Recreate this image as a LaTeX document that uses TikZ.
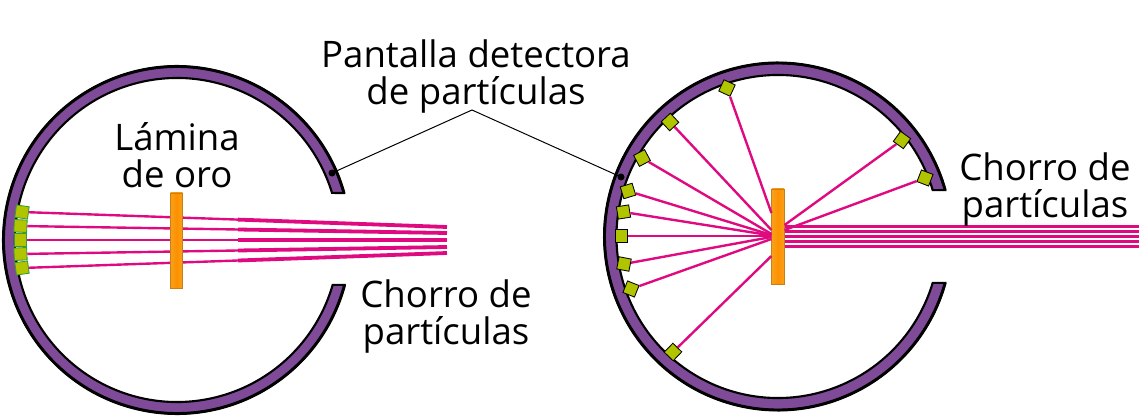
\documentclass[tikz,border=0pt]{standalone}
\usepackage{fontspec}
\setmainfont{Open Sans}
\usetikzlibrary{positioning, calc}
\definecolor{ringpurple}{HTML}{7F4A98}
\definecolor{raypink}{HTML}{DF0A80}
\definecolor{tilegreen}{HTML}{B0C400}
\definecolor{tileedge}{HTML}{3C9A35}
\definecolor{foilorange}{HTML}{F7A11A}
\definecolor{foilcore}{HTML}{FF9000}
\tikzset{
  rim/.style={draw=black, line width=1.5pt, fill=ringpurple},
  rimedge/.style={draw=black, line width=2.1pt},
  thinray/.style={draw=raypink, line width=1.7pt},
  thickray/.style={draw=raypink, line width=2.7pt},
  tile/.style={draw=black, line width=0.6pt, fill=tilegreen, inner sep=0pt, minimum width=0.31cm, minimum height=0.31cm},
  tileleft/.style={tile, draw=tileedge, minimum width=0.32cm, minimum height=0.31cm},
  foil/.style={draw=foilorange!80!black, line width=0.5pt, left color=foilorange, right color=foilorange, middle color=foilcore, inner sep=0pt, minimum width=0.31cm, minimum height=2.38cm},
  caption/.style={font=\fontsize{26pt}{26pt}\selectfont, inner sep=0pt, text depth=0pt},
  leader/.style={draw=black, line width=0.7pt}
}
\begin{document}
\begin{tikzpicture}[x=0.025cm, y=-0.025cm]
\useasboundingbox (0,0) rectangle (1140,420);

% rings
\begin{scope}[shift={(177,240)}]
\draw[rim] (15:173.5) arc[start angle=15, end angle=344.3, radius=173.5] -- (343.1:162) arc[start angle=343.1, end angle=16.1, radius=162] -- cycle;
\draw[rimedge] (15:173.5) arc[start angle=15, end angle=344.3, radius=173.5];
\end{scope}
\begin{scope}[shift={(778,236.5)}]
\draw[rim] (15.5:173.5) arc[start angle=15.5, end angle=344.5, radius=173.5] -- (343.3:161.5) arc[start angle=343.3, end angle=16.7, radius=161.5] -- cycle;
\draw[rimedge] (15.5:173.5) arc[start angle=15.5, end angle=344.5, radius=173.5];
\end{scope}

% left side
\foreach \n/\x/\y/\a/\ya/\yb in {1/22/212/-8/227/219.6, 2/20.5/226/-3/233/229.5, 3/20.5/240/0/240/240, 4/20.5/254/3/247/250.5, 5/22/268/8/253/260.5} {
  \node[tileleft, rotate=\a] (detL\n) at (\x,\y) {};
  \coordinate (kinkL\n) at (238,\yb);
  \coordinate (beamL\n) at (447,\ya);
  \draw[thinray] (detL\n) -- (kinkL\n);
  \draw[thickray] (kinkL\n) -- (beamL\n);
}
\node[foil] (foilL) at (176.5,240.5) {};

% right side
\node[foil] (foilR) at (778,236.5) {};
\foreach \n/\x/\y/\a/\h in {1/727/88/-25/213, 2/670/122/43/230, 3/642/158/28/234, 4/628/191/17/235, 5/623.5/212/9/235.5, 6/621.5/236/0/236, 7/624/264/-11/237, 8/631/289/-22/239, 9/673/352/-44/256} {
  \node[tile, rotate=\a] (detR\n) at (\x,\y) {};
  \coordinate (hitR\n) at (foilR.west |- 0,\h);
  \draw[thinray] (detR\n) -- (hitR\n);
}
\foreach \n/\x/\y/\a/\h in {10/902/140/-36/225, 11/925/178/-21/230} {
  \node[tile, rotate=\a] (detR\n) at (\x,\y) {};
  \coordinate (hitR\n) at (foilR.east |- 0,\h);
  \draw[thinray] (detR\n) -- (hitR\n);
}
\foreach \n/\y in {1/226.5, 2/231.5, 3/236.5, 4/241.5, 5/246.5} {
  \coordinate (beamR\n) at (1139,\y);
  \draw[thickray] (foilR.east |- beamR\n) -- (beamR\n);
}

% labels
\node[caption, align=center] (screen) at (476,72) {Pantalla detectora\\de partículas};
\node[caption, align=center] (gold) at (177,155) {Lámina\\de oro};
\node[caption, align=center] (jetL) at (446,312) {Chorro de\\partículas};
\node[caption, align=center] (jetR) at (1045,185) {Chorro de\\partículas};

% leader lines
\coordinate (fork) at (472,110);
\fill (332,173) circle (3.5) coordinate (dotL);
\fill (621,177) circle (3.5) coordinate (dotR);
\draw[leader] (dotL) -- (fork) -- (dotR);
\end{tikzpicture}
\end{document}
